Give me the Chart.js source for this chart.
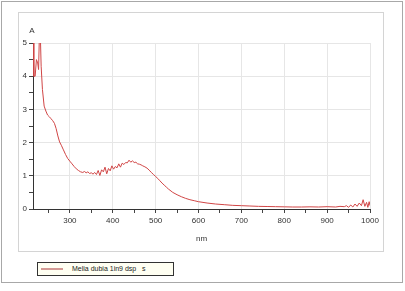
<!DOCTYPE html>
<html>
<head>
<meta charset="utf-8">
<script src="https://cdn.jsdelivr.net/npm/chart.js@4.4.1/dist/chart.umd.min.js"></script>
<style>
  body { margin: 0; background: #fff; font-family: "Liberation Sans", Arial, sans-serif; }
  #wrap { position: relative; width: 405px; height: 291px; overflow: hidden; }
  #outer { position: absolute; left: 1px; top: 1px; width: 400px; height: 280px; border: 1px solid #a8a8a8; }
  #panel { position: absolute; left: 18px; top: 12px; width: 364px; height: 238px; border: 1px solid #d4d4d4; }
  canvas { position: absolute; left: 0; top: 0; }
  #legend { position: absolute; left: 37px; top: 262px; width: 135px; height: 12px; border: 1px solid #333;
            background: #fffff2; font-size: 7px; color: #222; line-height: 12px; }
  #legend .swatch { position: absolute; left: 3px; top: 5px; width: 22px; height: 2px; background: #d49a94; }
  #legend .txt { position: absolute; left: 34px; top: 0; white-space: pre; }
</style>
</head>
<body>
<div id="wrap">
  <div id="outer"></div>
  <div id="panel"></div>
  <canvas id="spectrum" width="405" height="291"></canvas>
  <div id="legend"><span class="swatch"></span><span class="txt">Melia dubia 1in9 dsp   s</span></div>
</div>
<script>
// Absorbance spectrum
const wavelengths = [
  212, 214, 216, 219, 222, 225, 227, 229, 231, 233, 236, 240, 244, 248, 252, 256, 260, 264, 268, 272,
  276, 280, 285, 290, 295, 300, 305, 310, 315, 320, 325, 330, 334, 338, 342, 346, 350, 354, 358, 362,
  366, 370, 374, 378, 382, 386, 390, 394, 398, 402, 406, 410, 414, 418, 422, 426, 430, 434, 438, 442,
  446, 450, 454, 458, 462, 466, 470, 475, 480, 485, 490, 495, 500, 505, 510, 515, 520, 525, 530, 540,
  550, 560, 570, 580, 590, 600, 620, 640, 660, 680, 700, 720, 740, 760, 780, 800, 820, 840, 860, 880,
  900, 920, 930, 940, 945, 950, 955, 960, 965, 970, 975, 980, 984, 988, 992, 995, 998, 1000
];
const absorbance = [
  5.3, 5.3, 4.0, 4.0, 4.5, 4.4, 4.2, 5.3, 5.3, 4.3, 3.6, 3.1, 2.95, 2.83, 2.78, 2.72, 2.66, 2.58, 2.42, 2.2,
  2.02, 1.92, 1.78, 1.64, 1.52, 1.44, 1.36, 1.28, 1.21, 1.16, 1.12, 1.1, 1.13, 1.09, 1.12, 1.07, 1.09, 1.05, 1.1, 1.04,
  1.16, 1.01, 1.18, 1.12, 1.26, 1.06, 1.22, 1.15, 1.3, 1.2, 1.28, 1.24, 1.36, 1.26, 1.38, 1.34, 1.4, 1.39, 1.47, 1.41,
  1.45, 1.4, 1.41, 1.36, 1.35, 1.33, 1.3, 1.27, 1.23, 1.17, 1.1, 1.04, 0.98, 0.92, 0.85, 0.78, 0.72, 0.66, 0.6, 0.5,
  0.43, 0.37, 0.32, 0.28, 0.25, 0.22, 0.18, 0.15, 0.13, 0.11, 0.1, 0.09, 0.08, 0.075, 0.07, 0.065, 0.06, 0.06, 0.065, 0.06,
  0.07, 0.06, 0.08, 0.07, 0.1, 0.05, 0.12, 0.06, 0.15, 0.08, 0.18, 0.1, 0.28, 0.08, 0.2, 0.05, 0.22, 0.1
];
const xTicks = [250, 300, 350, 400, 450, 500, 550, 600, 650, 700, 750, 800, 850, 900, 950, 1000];
const yTicks = [0, 0.5, 1, 1.5, 2, 2.5, 3, 3.5, 4, 4.5, 5];

const points = wavelengths.map((w, i) => ({ x: w, y: absorbance[i] }));

// draws the "A" unit label above the y axis
const unitLabel = {
  id: 'unitLabel',
  afterDraw(chart) {
    const c = chart.ctx;
    c.save();
    c.font = '8px "Liberation Sans", Arial, sans-serif';
    c.fillStyle = '#333';
    c.textAlign = 'center';
    c.textBaseline = 'middle';
    c.fillText('A', chart.chartArea.left - 1, chart.chartArea.top - 12);
    c.restore();
  }
};

const gridColor = (ctx) => (ctx.tick && Number.isInteger(ctx.tick.value / (ctx.scale.axis === 'x' ? 100 : 1)))
  ? '#e6e6e6' : 'rgba(0,0,0,0)';

new Chart(document.getElementById('spectrum'), {
  type: 'line',
  data: {
    datasets: [{
      label: 'Melia dubia 1in9 dsp   s',
      data: points,
      borderColor: '#d04545',
      borderWidth: 1,
      pointRadius: 0,
      tension: 0,
      fill: false
    }]
  },
  options: {
    responsive: false,
    animation: false,
    layout: { padding: { left: 18, right: 35, top: 43, bottom: 47 } },
    plugins: { legend: { display: false }, tooltip: { enabled: false } },
    scales: {
      x: {
        type: 'linear',
        min: 214,
        max: 1000,
        afterBuildTicks: (s) => { s.ticks = xTicks.map(v => ({ value: v })); },
        afterFit: (s) => { s.height = 35; },
        grid: { color: gridColor, tickColor: '#444', tickLength: 4 },
        border: { color: '#333' },
        ticks: {
          autoSkip: false,
          maxRotation: 0,
          padding: 3,
          color: '#333',
          font: { size: 8, family: '"Liberation Sans", Arial, sans-serif' },
          callback: (v) => (v % 100 === 0 ? String(v) : '')
        },
        title: {
          display: true,
          text: 'nm',
          color: '#333',
          padding: { top: 2, bottom: 0 },
          font: { size: 8, family: '"Liberation Sans", Arial, sans-serif' }
        }
      },
      y: {
        min: 0,
        max: 5,
        afterBuildTicks: (s) => { s.ticks = yTicks.map(v => ({ value: v })); },
        afterFit: (s) => { s.width = 15; },
        grid: { color: gridColor, tickColor: '#444', tickLength: 4 },
        border: { color: '#333' },
        ticks: {
          autoSkip: false,
          padding: 2,
          color: '#333',
          font: { size: 8, family: '"Liberation Sans", Arial, sans-serif' },
          callback: (v) => (Number.isInteger(v) ? String(v) : '')
        }
      }
    }
  },
  plugins: [unitLabel]
});
</script>
</body>
</html>
